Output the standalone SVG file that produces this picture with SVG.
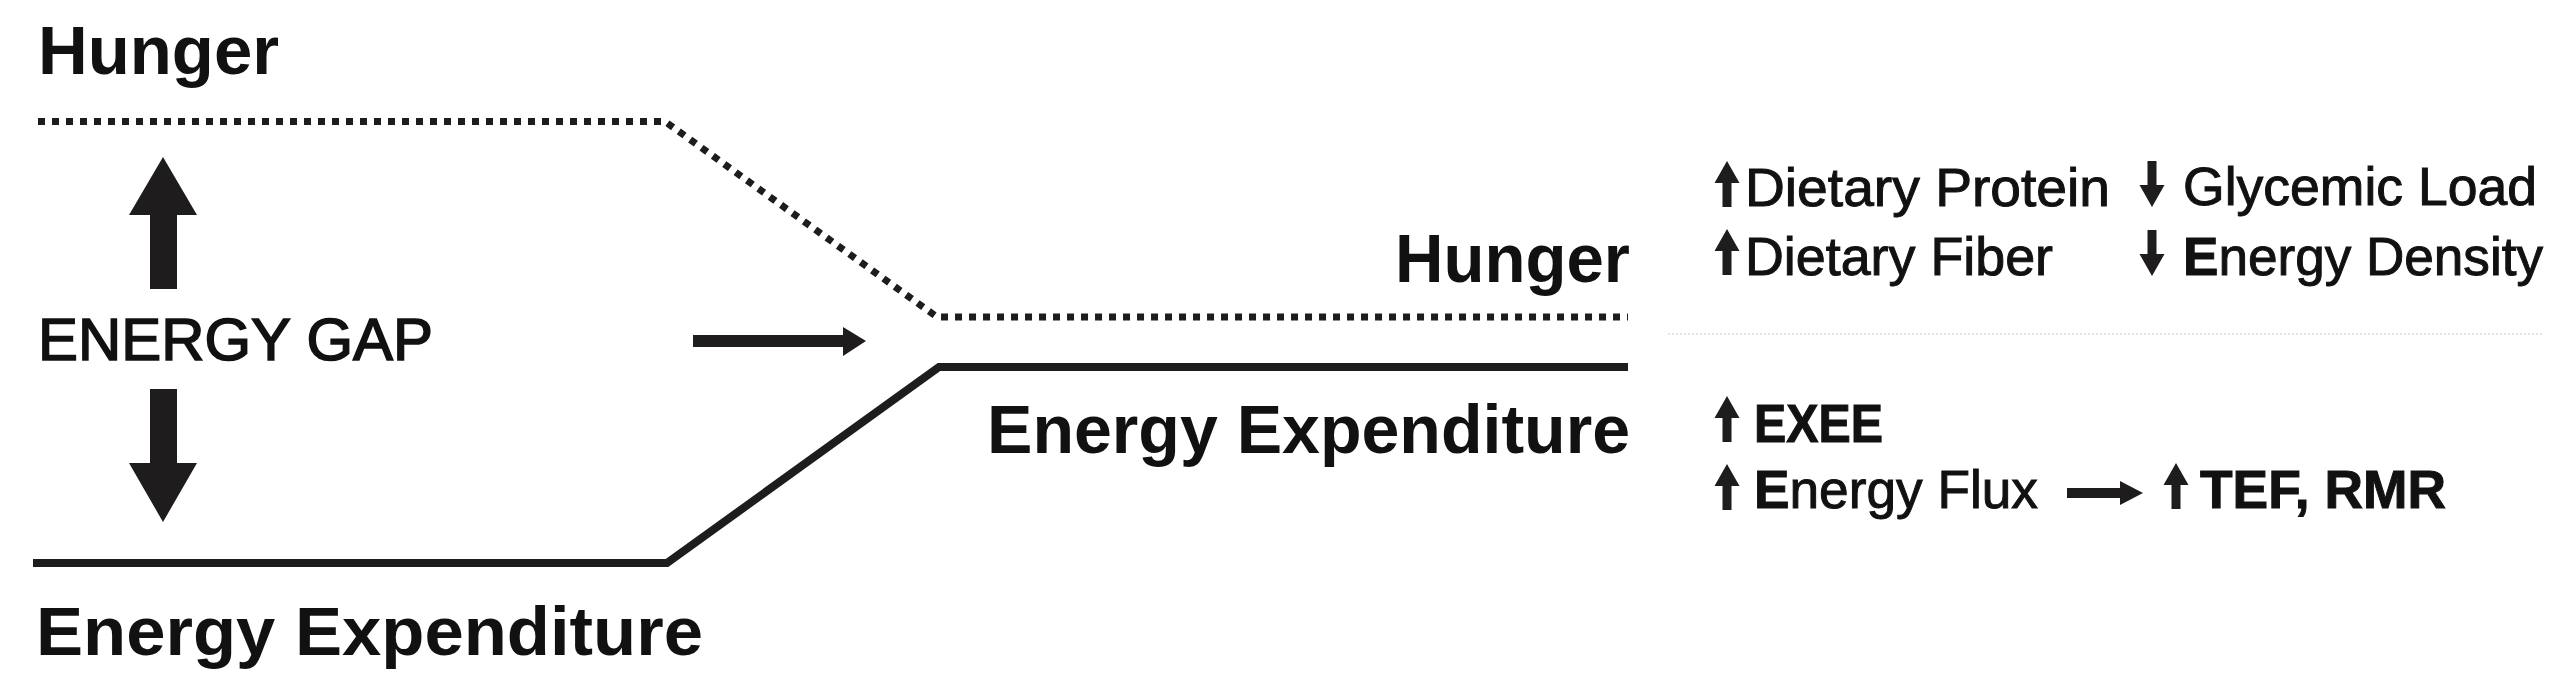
<svg xmlns="http://www.w3.org/2000/svg" width="2565" height="692" viewBox="0 0 2565 692">
<style>
text{font-family:"Liberation Sans",Arial,Helvetica,sans-serif;fill:#111}
.b{font-weight:bold}
.big{font-size:68px;font-weight:bold}
.sm{font-size:54px;stroke:#111;stroke-width:1}
.gap{font-size:60px;stroke:#111;stroke-width:1.6}
.dot{fill:none;stroke:#1e1c1c;stroke-width:7;stroke-dasharray:7 7}
.sol{fill:none;stroke:#1e1c1c;stroke-width:8}
.ar{fill:#1e1c1c}
</style>
<defs>
<path id="up" d="M0,0 L12.5,22 L4.5,22 L4.5,46 L-4.5,46 L-4.5,22 L-12.5,22 Z"/>
<path id="dn" d="M0,0 L12.5,-22 L4.5,-22 L4.5,-46 L-4.5,-46 L-4.5,-22 L-12.5,-22 Z"/>
</defs>
<rect width="2565" height="692" fill="#fff"/>
<g id="connectors">
<path class="dot" d="M38,121.5 L665,121.5 L937,317 L1628,317"/>
<path class="sol" d="M33,563 L667,563 L939,367 L1628,367"/>
<line x1="1668" y1="334" x2="2542" y2="334" stroke="#e2ddd8" stroke-width="1.5" stroke-dasharray="2 2"/>
<path class="ar" d="M163,157 L197,215 L177,215 L177,289 L150,289 L150,215 L129,215 Z"/>
<path class="ar" d="M163,522 L197,463 L177,463 L177,389 L150,389 L150,463 L129,463 Z"/>
<path class="ar" d="M693,335 L843,335 L843,327 L866,341 L843,356 L843,347 L693,347 Z"/>
<path class="ar" d="M2067,488 L2120,488 L2120,481 L2143,493 L2120,505 L2120,498 L2067,498 Z"/>
</g>
<g id="hunger-top"><text class="big" x="38" y="74" textLength="241" lengthAdjust="spacingAndGlyphs">Hunger</text></g>
<g id="energy-gap"><text class="gap" x="38" y="360" textLength="395" lengthAdjust="spacingAndGlyphs">ENERGY GAP</text></g>
<g id="ee-bottom"><text class="big" x="36" y="655" textLength="667" lengthAdjust="spacingAndGlyphs">Energy Expenditure</text></g>
<g id="hunger-right"><text class="big" x="1395" y="282" textLength="235" lengthAdjust="spacingAndGlyphs">Hunger</text></g>
<g id="ee-right"><text class="big" x="987" y="453" textLength="643" lengthAdjust="spacingAndGlyphs">Energy Expenditure</text></g>
<g id="dietary-protein">
<use href="#up" x="1727" y="161" class="ar"/>
<text class="sm" x="1745" y="206" textLength="365" lengthAdjust="spacingAndGlyphs">Dietary Protein</text>
</g>
<g id="dietary-fiber">
<use href="#up" x="1727" y="229" class="ar"/>
<text class="sm" x="1745" y="275" textLength="308" lengthAdjust="spacingAndGlyphs">Dietary Fiber</text>
</g>
<g id="glycemic-load">
<use href="#dn" x="2152" y="207" class="ar"/>
<text class="sm" x="2183" y="205" textLength="354" lengthAdjust="spacingAndGlyphs">Glycemic Load</text>
</g>
<g id="energy-density">
<use href="#dn" x="2152" y="276" class="ar"/>
<text class="sm" x="2183" y="275" textLength="360" lengthAdjust="spacingAndGlyphs"><tspan class="b">E</tspan>nergy Density</text>
</g>
<g id="exee">
<use href="#up" x="1727" y="396" class="ar"/>
<text class="sm b" x="1754" y="442" textLength="129" lengthAdjust="spacingAndGlyphs">EXEE</text>
</g>
<g id="energy-flux">
<use href="#up" x="1727" y="464" class="ar"/>
<text class="sm" x="1754" y="508" textLength="284" lengthAdjust="spacingAndGlyphs"><tspan class="b">E</tspan>nergy Flux</text>
</g>
<g id="tef-rmr">
<use href="#up" x="2176" y="463" class="ar"/>
<text class="sm b" x="2200" y="508" textLength="246" lengthAdjust="spacingAndGlyphs">TEF, RMR</text>
</g>
</svg>
